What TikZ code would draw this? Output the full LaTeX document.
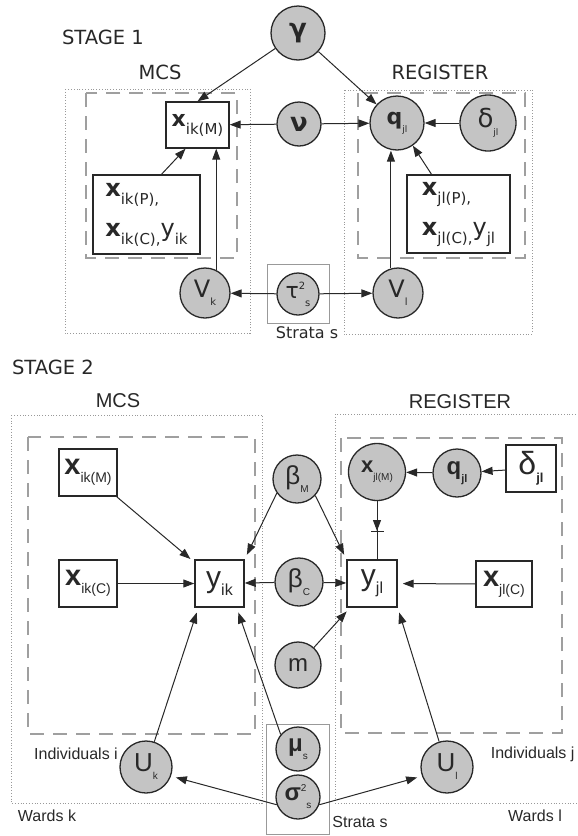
\documentclass[tikz,border=0pt]{standalone}
\usepackage{fontspec}
\setmainfont{DejaVu Sans}
\newfontfamily\arialfont{Liberation Sans}
\usetikzlibrary{arrows.meta}

\definecolor{latfill}{RGB}{196,196,196}
\definecolor{ink}{RGB}{40,40,40}
% lowered / raised index text
\newcommand{\lowtxt}[2]{\raisebox{-8pt}{\fontsize{#1}{#1}\selectfont #2}}
\newcommand{\uptxt}[2]{\raisebox{9pt}{\fontsize{#1}{#1}\selectfont #2}}

\tikzset{
  obs/.style={draw=ink, line width=1.4pt, fill=white, inner sep=0pt, text=ink},
  lat/.style={circle, draw=ink, line width=1.3pt, fill=latfill, inner sep=0pt, text=ink},
  edge/.style={draw=ink, line width=1pt, -{Triangle[length=11pt,width=8pt]}},
  gapedge/.style={edge, shorten >=5pt},
  plate/.style={draw=gray!75, line width=1.2pt, dash pattern=on 14pt off 9pt},
  ward/.style={draw=gray!80, line width=0.8pt, dotted},
  stratum/.style={draw=gray!80, line width=1pt},
  heading/.style={text=ink, font=\fontsize{19.5}{20}\selectfont},
  headingB/.style={text=ink, font=\arialfont\fontsize{20}{20}\selectfont},
  caption/.style={text=ink, font=\arialfont\fontsize{16}{17}\selectfont},
}

\begin{document}
\begin{tikzpicture}[x=1pt,y=-1pt]
\useasboundingbox (0,0) rectangle (578,836);

% ---- stage 1 ----
\node[heading] (stage1) at (103,37) {STAGE 1};
\node[heading] (mcs1) at (160,72) {MCS};
\node[heading] (reg1) at (440,72) {REGISTER};
\draw[ward] (65,89) rectangle (250,333);
\draw[ward] (344,90) rectangle (532,334);
\draw[plate] (86,93) rectangle (237,258);
\draw[plate] (358,93) rectangle (525,258);

\node[lat, minimum size=54pt, font=\fontsize{26}{26}\selectfont\bfseries] (gamma) at (298,33) {γ};
\node[lat, minimum size=44pt, font=\fontsize{26}{26}\selectfont\bfseries] (nu) at (299,124) {ν};
\node[obs, minimum width=63pt, minimum height=46pt, font=\fontsize{22}{22}\selectfont] (xM) at (197.5,125)
  {{\bfseries x}\lowtxt{15}{ik(M)}};
\node[lat, minimum size=54pt, font=\fontsize{22}{22}\selectfont] (q1) at (397,123)
  {{\bfseries q}\lowtxt{9}{jl}};
\node[lat, minimum size=56pt, font=\fontsize{26}{26}\selectfont] (delta1) at (488,123)
  {δ\lowtxt{9}{jl}};
\node[obs, minimum width=107pt, minimum height=79pt, align=left, font=\fontsize{24}{40}\selectfont] (xP) at (146.5,214.5)
  {{\bfseries x}\lowtxt{15}{ik(P),}\\{\bfseries x}\lowtxt{15}{ik(C),}y\lowtxt{15}{ik}};
\node[obs, minimum width=103pt, minimum height=78pt, align=left, font=\fontsize{24}{40}\selectfont] (xjP) at (458.5,214)
  {{\bfseries x}\lowtxt{15}{jl(P),}\\{\bfseries x}\lowtxt{15}{jl(C),}y\lowtxt{15}{jl}};
\node[stratum, minimum width=62pt, minimum height=59pt, draw] (strat1) at (298,293.5) {};
\node[lat, minimum size=42pt, font=\fontsize{22}{22}\selectfont] (tau) at (298,294)
  {τ\uptxt{10}{2}\lowtxt{10}{s}};
\node[lat, minimum size=50pt, font=\fontsize{24}{24}\selectfont] (Vk) at (205,293) {V\lowtxt{10}{k}};
\node[lat, minimum size=50pt, font=\fontsize{24}{24}\selectfont] (Vl) at (398,293) {V\lowtxt{10}{l}};
\node[heading, font=\fontsize{16}{17}\selectfont] (strata1) at (307,333) {Strata s};

\draw[edge] (gamma) -- (xM.north);
\draw[edge] (gamma) -- (q1);
\draw[edge] (nu) -- (xM);
\draw[edge] (nu) -- (q1);
\draw[edge] (delta1) -- (q1);
\draw[edge] ([xshift=15pt]xP.north) -- ([xshift=-12pt]xM.south);
\draw[edge] ([xshift=-27pt]xjP.north) -- (q1.-55);
\draw[edge] (Vk.64) -- (Vk.64 |- xM.south);
\draw[edge] (Vl.106) -- (Vl.106 |- q1.south);
\draw[edge] (tau) -- (Vk);
\draw[edge] (tau) -- (Vl);

% ---- stage 2 ----
\node[heading] (stage2) at (53,367) {STAGE 2};
\node[headingB] (mcs2) at (118,401) {MCS};
\node[headingB] (reg2) at (460,402) {REGISTER};
\draw[ward] (11,415) rectangle (262,803);
\draw[ward] (335,414) rectangle (590,803);
\draw[plate] (28,437) rectangle (255,734);
\draw[plate] (341,438) rectangle (562,733);

\node[obs, minimum width=58pt, minimum height=47pt, font=\arialfont\fontsize{29}{29}\selectfont] (xikM) at (88,472.5)
  {{\bfseries x}\lowtxt{14}{ik(M)}};
\node[obs, minimum width=58pt, minimum height=47pt, font=\arialfont\fontsize{29}{29}\selectfont] (xikC) at (88,583.5)
  {{\bfseries x}\lowtxt{14}{ik(C)}};
\node[obs, minimum width=49pt, minimum height=47pt, font=\arialfont\fontsize{30}{30}\selectfont] (yik) at (219.5,583.5)
  {y\lowtxt{16}{ik}};
\node[obs, minimum width=50pt, minimum height=47pt, font=\arialfont\fontsize{30}{30}\selectfont] (yjl) at (372,583.5)
  {y\lowtxt{16}{jl}};
\node[obs, minimum width=56pt, minimum height=46pt, font=\arialfont\fontsize{29}{29}\selectfont] (xjlC) at (504,584)
  {{\bfseries x}\lowtxt{14}{jl(C)}};
\node[obs, minimum width=50pt, minimum height=47pt, font=\arialfont\fontsize{32}{32}\selectfont] (deltaB) at (531,468.5)
  {δ\lowtxt{13}{\bfseries jl}};
\node[lat, minimum size=48pt, font=\arialfont\fontsize{24}{24}\selectfont] (qB) at (457,473)
  {{\bfseries q}\lowtxt{11}{\bfseries jl}};
\node[lat, minimum size=57pt, font=\arialfont\fontsize{22}{22}\selectfont] (xjlM) at (377,472)
  {{\bfseries x}\lowtxt{10}{jl(M)}};

\node[lat, minimum size=48pt, font=\arialfont\fontsize{26}{26}\selectfont] (betaM) at (297,479) {β\lowtxt{10}{M}};
\node[lat, minimum size=48pt, font=\arialfont\fontsize{26}{26}\selectfont] (betaC) at (299,582) {β\lowtxt{10}{C}};
\node[lat, minimum size=46pt, font=\arialfont\fontsize{24}{24}\selectfont] (mnode) at (298,665) {m};
\node[stratum, minimum width=63pt, minimum height=110pt, draw] (strat2) at (297.5,779) {};
\node[lat, minimum size=44pt, font=\arialfont\fontsize{24}{24}\selectfont] (mus) at (298,749)
  {{\bfseries μ}\lowtxt{10}{s}};
\node[lat, minimum size=44pt, font=\arialfont\fontsize{24}{24}\selectfont] (sig) at (298,797)
  {{\bfseries σ}\uptxt{10}{2}\lowtxt{10}{s}};
\node[lat, minimum size=52pt, font=\arialfont\fontsize{26}{26}\selectfont] (Uk) at (146,767) {U\lowtxt{10}{k}};
\node[lat, minimum size=52pt, font=\arialfont\fontsize{26}{26}\selectfont] (Ul) at (447,767) {U\lowtxt{10}{l}};

\node[caption] (indi) at (76,754) {Individuals i};
\node[caption] (wardk) at (47,816) {Wards k};
\node[caption, anchor=east] (indj) at (578,754) {Individuals j};
\node[caption] (wardl) at (535,816) {Wards l};
\node[caption] (strata2) at (360,822) {Strata s};

\draw[gapedge] (xikM) -- (yik);
\draw[edge] (xikC) -- (yik);
\draw[gapedge] (betaM.215) -- (yik.north east);
\draw[gapedge] (betaM.318) -- (yjl.north west);
\draw[edge] (betaC) -- (yik);
\draw[edge] (betaC) -- (yjl);
\draw[gapedge] (mnode) -- (yjl);
\draw[gapedge] (Uk) -- ([xshift=4pt]yik.south west);
\draw[gapedge] (mus.140) -- ([xshift=-8pt]yik.south east);
\draw[gapedge] (sig.200) -- (Uk.-20);
\draw[gapedge] (sig.-20) -- (Ul.200);
\draw[gapedge] (Ul) -- (yjl.south east);
\draw[gapedge] (xjlC) -- (yjl);
\draw[edge] (qB) -- (xjlM);
\draw[edge] (deltaB) -- (qB);
\coordinate (cut) at (377,532);
\draw[edge, -{Triangle[length=11pt,width=8pt] Bar[width=13pt]}] (xjlM) -- (cut);
\draw[draw=ink, line width=1pt] (cut) -- (cut |- yjl.north);
\end{tikzpicture}
\end{document}
